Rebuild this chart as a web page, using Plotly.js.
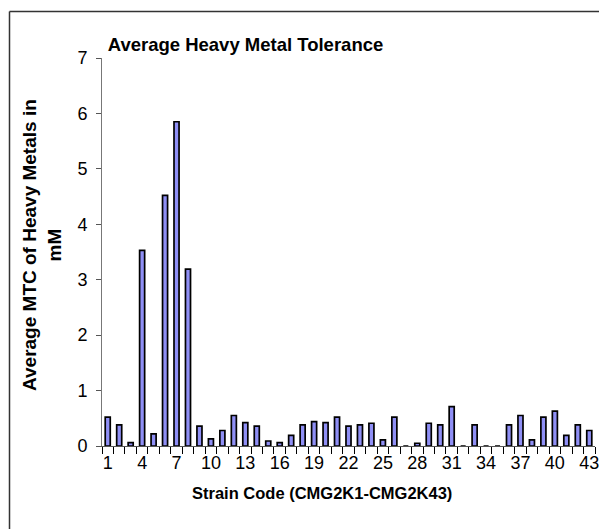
<!DOCTYPE html>
<html>
<head>
<meta charset="utf-8">
<script src="https://cdn.plot.ly/plotly-3.0.1.min.js"></script>
<style>html,body{margin:0;padding:0;background:#fff;}#chart{width:599px;height:529px;}</style>
</head>
<body>
<div id="chart"></div>
<script>
const strains = [1,2,3,4,5,6,7,8,9,10,11,12,13,14,15,16,17,18,19,20,21,22,23,24,25,26,27,28,29,30,31,32,33,34,35,36,37,38,39,40,41,42,43];
const avgMTC = [0.52,0.38,0.06,3.53,0.22,4.52,5.85,3.19,0.36,0.13,0.28,0.55,0.42,0.36,0.09,0.06,0.19,0.38,0.44,0.42,
                0.52,0.36,0.38,0.41,0.11,0.52,0,0.05,0.41,0.38,0.71,0,0.38,0,0,0.38,0.55,0.11,0.52,0.63,0.19,0.38,0.28];
const tickVals = [1,4,7,10,13,16,19,22,25,28,31,34,37,40,43];
const tickText = tickVals.map(String);
const yTicks = [0,1,2,3,4,5,6,7];

const W = 599, H = 529, L = 102, R = 4, T = 58, B = 83;
const pw = W - L - R, ph = H - T - B;
const px2x = p => (p - L) / pw;
const py2y = p => (H - B - p) / ph;

const trace = {
  type: 'bar',
  x: strains,
  y: avgMTC,
  marker: {color: '#8f8ff5', line: {color: '#000', width: 1.7}},
  hoverinfo: 'x+y'
};

const layout = {
  width: W, height: H,
  margin: {l: L, r: R, t: T, b: B},
  paper_bgcolor: '#fff', plot_bgcolor: '#fff',
  showlegend: false,
  bargap: 0.56,
  font: {family: 'Liberation Sans, Arial, sans-serif', color: '#000'},
  title: {text: '<b>Average Heavy Metal Tolerance</b>', font: {size: 18.5, color: '#000'},
          x: px2x(245.5), xref: 'paper', xanchor: 'center', y: 1 - 45/H, yref: 'container', yanchor: 'middle'},
  xaxis: {
    range: [0.5, 43.5], tickmode: 'array', tickvals: tickVals, ticktext: tickText,
    ticks: '', showgrid: false, zeroline: false, showline: true, linecolor: '#555', linewidth: 1,
    tickfont: {size: 18}, ticklabeloverflow: 'allow', fixedrange: true,
    minor: {tickmode: 'linear', tick0: 0.5, dtick: 1, ticks: 'outside', ticklen: 7, tickcolor: '#000', tickwidth: 1, showgrid: false}
  },
  yaxis: {
    range: [0, 7], tickmode: 'array', tickvals: yTicks, ticks: 'outside', ticklen: 5, tickcolor: '#555',
    showgrid: false, zeroline: false, showline: true, linecolor: '#777', linewidth: 1,
    tickfont: {size: 18}, ticklabelstandoff: 5, ticklabeloverflow: 'allow', fixedrange: true
  },
  annotations: [
    {text: '<b>Strain Code (CMG2K1-CMG2K43)</b>', xref: 'paper', yref: 'paper', x: px2x(322), y: py2y(493),
     xanchor: 'center', yanchor: 'middle', showarrow: false, font: {size: 16.5}},
    {text: '<b>Average MTC of Heavy Metals in<br>mM</b>', xref: 'paper', yref: 'paper', x: px2x(42), y: py2y(245),
     xanchor: 'center', yanchor: 'middle', showarrow: false, textangle: -90, font: {size: 19}}
  ],
  shapes: [
    {type: 'line', xref: 'paper', yref: 'paper', x0: px2x(9.5), x1: px2x(9.5), y0: py2y(11.5), y1: py2y(540),
     line: {color: '#333', width: 1.5}},
    {type: 'line', xref: 'paper', yref: 'paper', x0: px2x(9.5), x1: px2x(610), y0: py2y(11.5), y1: py2y(11.5),
     line: {color: '#333', width: 1.5}}
  ]
};

Plotly.newPlot('chart', [trace], layout, {displayModeBar: false, staticPlot: true});
</script>
</body>
</html>
